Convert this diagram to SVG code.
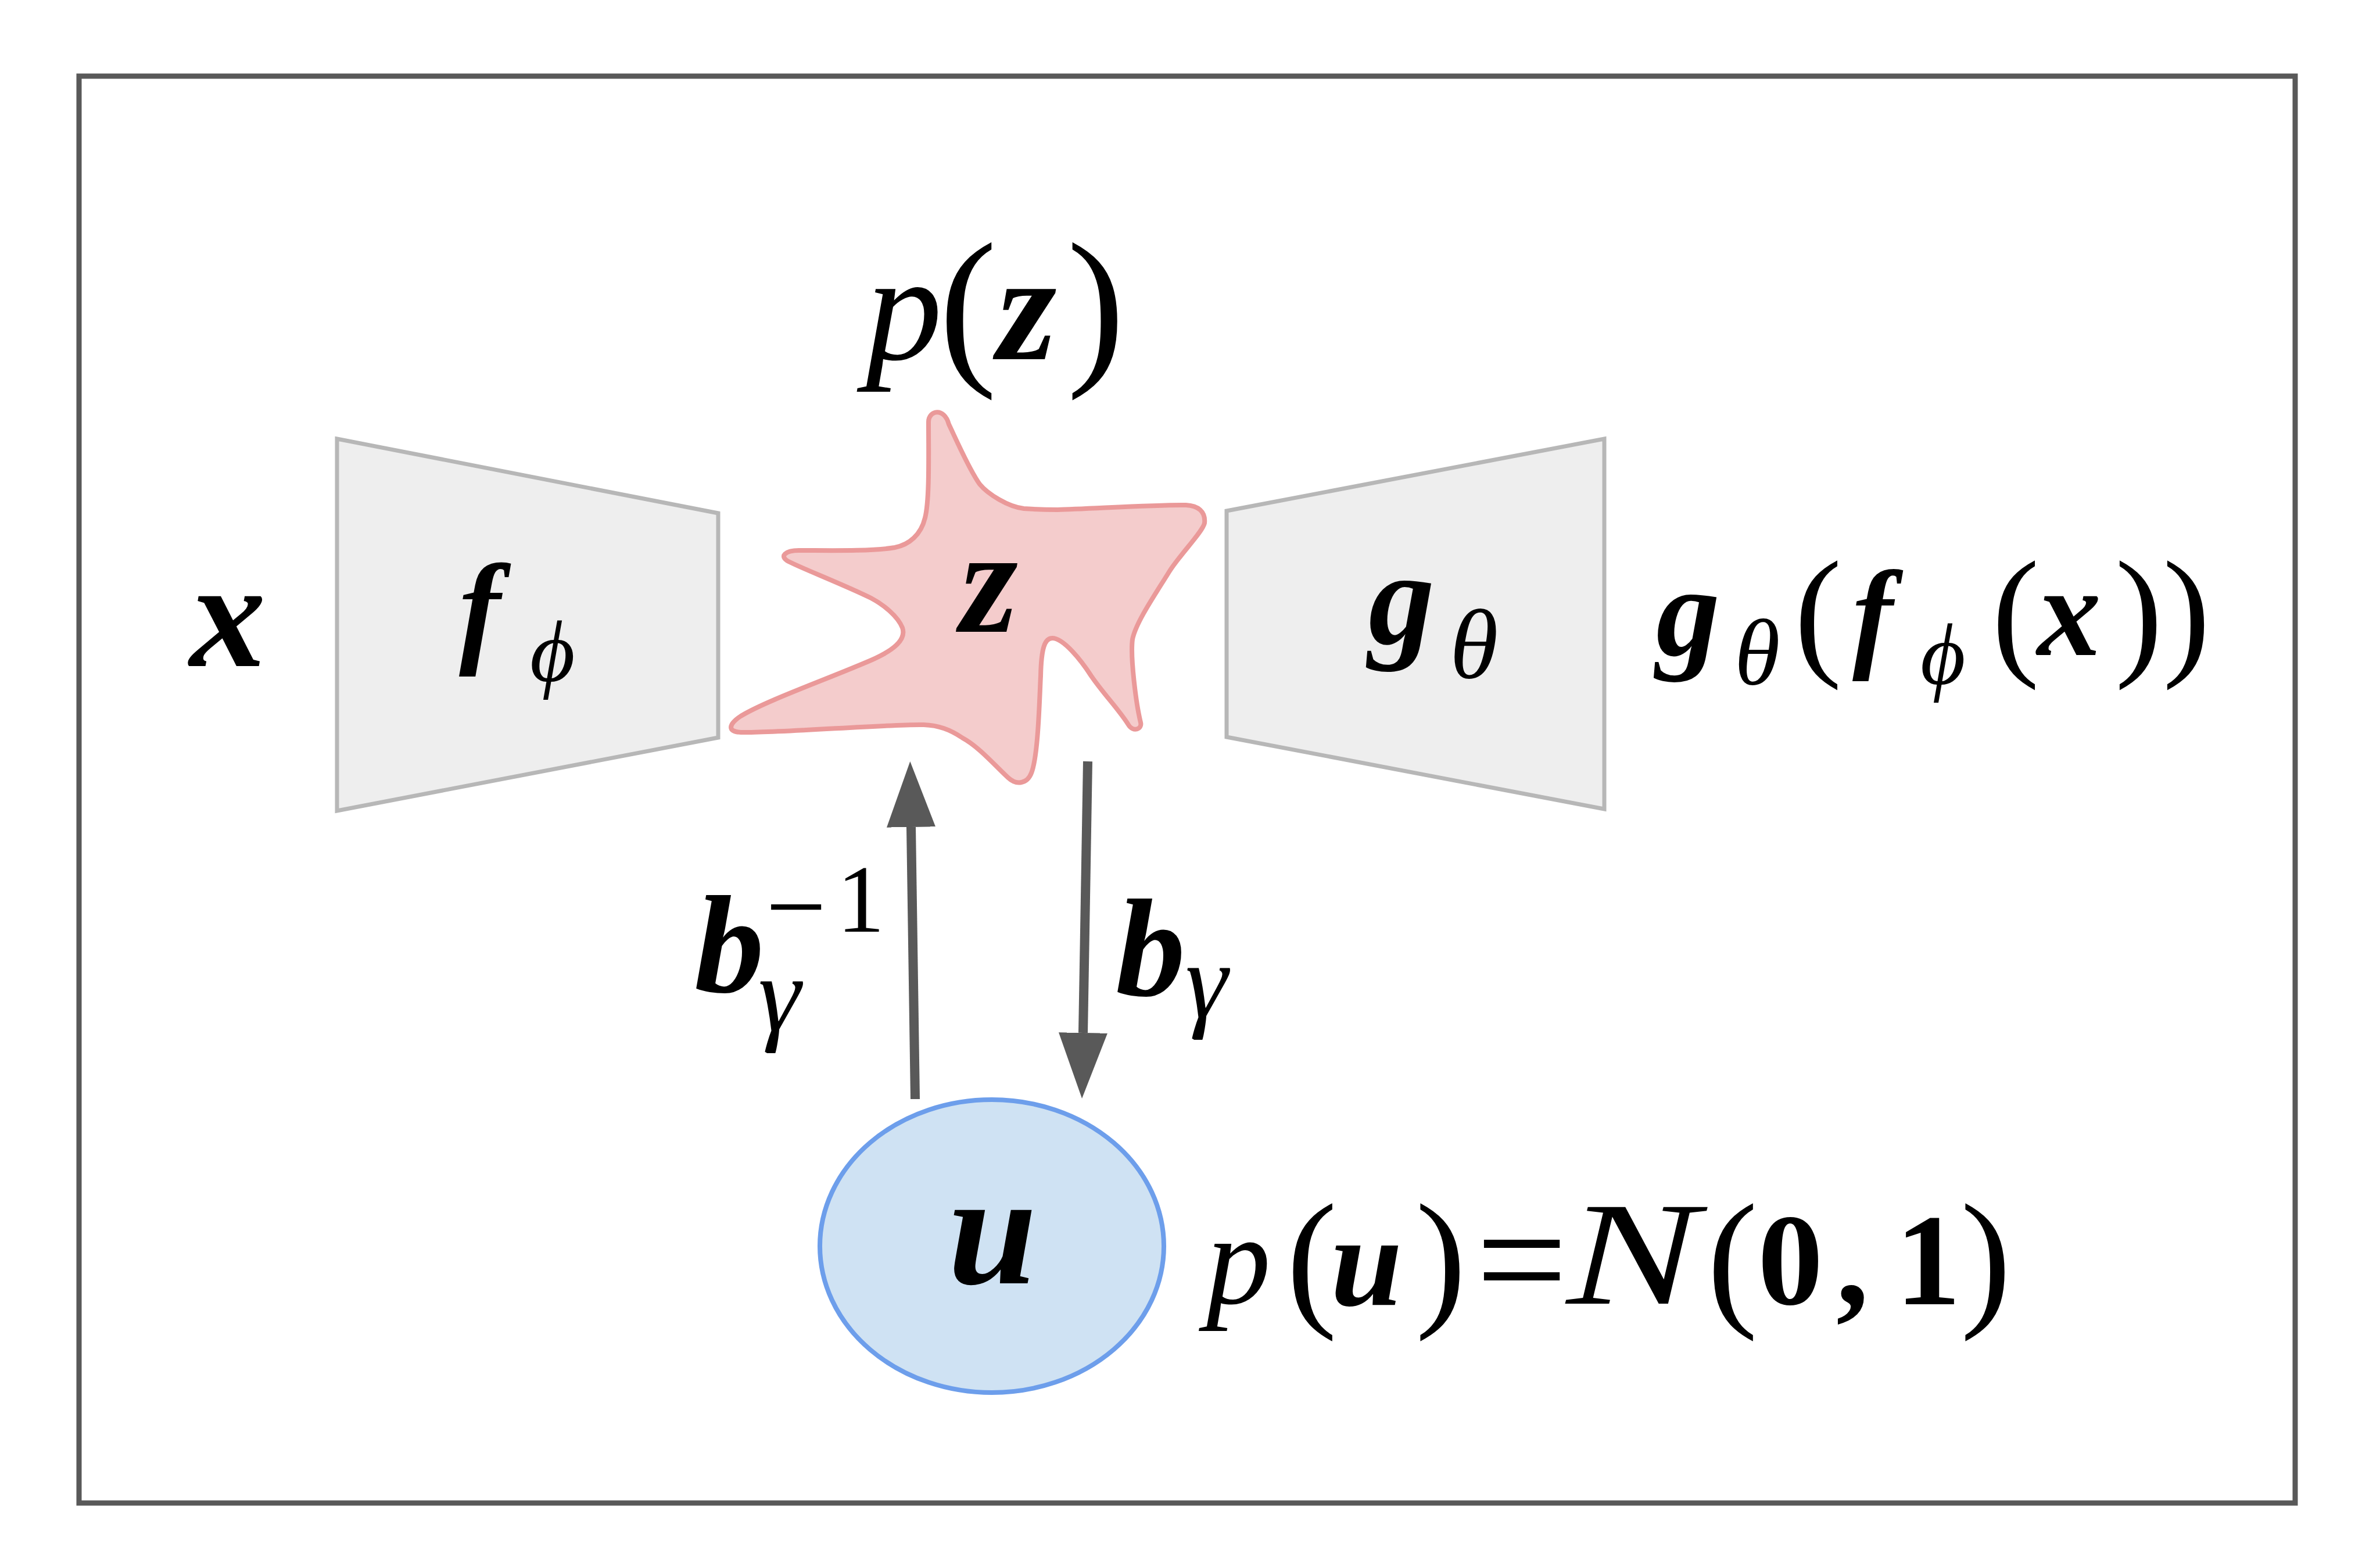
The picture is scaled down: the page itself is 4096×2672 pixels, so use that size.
<svg xmlns="http://www.w3.org/2000/svg" width="4096" height="2672" viewBox="0 0 4096 2672">
<defs>
<style>
.t{font-family:"Liberation Serif","DejaVu Serif",serif;fill:#000}
.bi{font-weight:bold;font-style:italic}
.it{font-style:italic}
.bd{font-weight:bold}
.trap{fill:#eeeeee;stroke:#b7b7b7;stroke-width:7;stroke-linejoin:miter}
.conn{stroke:#595959;stroke-width:16;fill:none}
</style>
<marker id="head" viewBox="0 0 113 84" markerWidth="113" markerHeight="84" markerUnits="userSpaceOnUse" refX="0" refY="42" orient="auto">
<path d="M0,0 L113,42 L0,84 Z" fill="#595959"/>
</marker>
</defs>
<rect x="0" y="0" width="4096" height="2672" fill="#ffffff"/>
<g id="frame">
<rect x="136" y="131" width="3814" height="2455" fill="none" stroke="#595959" stroke-width="9"/>
</g>
<g id="input-x">
<text class="t bi" x="392" y="1146" font-size="262" text-anchor="middle">x</text>
</g>
<g id="encoder">
<polygon class="trap" points="580,755 1236,883 1236,1269 580,1395"/>
<text class="t" y="1118"><tspan class="bi" x="790" font-size="215">f</tspan><tspan class="it" x="912" y="1172" font-size="150">ϕ</tspan></text>
</g>
<g id="latent">
<path d="M1598,726 C1598,706 1625,700 1633,730 C1645,755 1668,808 1686,833 C1700,850 1735,872 1762,875 C1790,877 1800,877 1820,877 C1870,876 1990,868 2041,869 C2062,870 2075,880 2073,900 C2070,915 2030,955 2012,984 C1990,1020 1955,1070 1949,1100 C1945,1130 1955,1210 1963,1243 C1966,1255 1950,1260 1942,1247 C1925,1220 1900,1195 1878,1163 C1860,1135 1830,1098 1811,1098 C1798,1098 1792,1115 1791,1163 C1789,1200 1787,1300 1775,1330 C1768,1348 1750,1352 1735,1338 C1715,1320 1685,1285 1657,1270 C1635,1255 1615,1248 1590,1247 C1540,1245 1330,1262 1275,1260 C1250,1259 1255,1245 1275,1232 C1320,1205 1420,1170 1499,1136 C1540,1118 1560,1100 1553,1080 C1545,1060 1520,1040 1499,1029 C1450,1005 1380,978 1357,966 C1340,957 1352,947 1375,947 C1420,947 1500,949 1540,942 C1565,937 1585,920 1592,891 C1600,860 1598,780 1598,726 Z" fill="#f4cccc" stroke="#ea9999" stroke-width="8"/>
<text class="t bi" x="1702" y="1087" font-size="256" text-anchor="middle">z</text>
<text class="t" y="618"><tspan class="it" x="1490" font-size="263">p</tspan><tspan x="1616" y="625" font-size="300">(</tspan><tspan class="bi" x="1716" y="618" font-size="263">z</tspan><tspan x="1836" y="625" font-size="300">)</tspan></text>
</g>
<g id="decoder">
<polygon class="trap" points="2111,879 2761,755 2761,1392 2111,1268"/>
<text class="t" y="1107"><tspan class="bi" x="2355" font-size="228">g</tspan><tspan class="it" x="2495" y="1166" font-size="170">θ</tspan></text>
</g>
<g id="output-label">
<text class="t" y="1127"><tspan class="bi" x="2850" font-size="220">g</tspan><tspan class="it" x="2985" y="1177" font-size="160">θ</tspan><tspan x="3088" y="1135" font-size="246">(</tspan><tspan class="bi" x="3188" y="1127" font-size="210">f</tspan><tspan class="it" x="3305" y="1177" font-size="150">ϕ</tspan><tspan x="3428" y="1135" font-size="246">(</tspan><tspan class="bi" x="3506" y="1127" font-size="220">x</tspan><tspan x="3640" y="1135" font-size="246">)</tspan><tspan x="3722" y="1135" font-size="246">)</tspan></text>
</g>
<g id="base">
<ellipse cx="1707" cy="2144" rx="296" ry="252" fill="#cfe2f3" stroke="#6d9eeb" stroke-width="8"/>
<text class="t bi" x="1708" y="2208" font-size="275" text-anchor="middle">u</text>
<text class="t" y="2243"><tspan class="it" x="2076" font-size="222">p</tspan><tspan x="2214" y="2252" font-size="262">(</tspan><tspan class="bi" x="2290" y="2245" font-size="222">u</tspan><tspan x="2436" y="2252" font-size="262">)</tspan><tspan x="2540" y="2261" font-size="280">=</tspan><tspan class="it" x="2696" y="2243" font-size="254" textLength="227" lengthAdjust="spacingAndGlyphs">N</tspan><tspan x="2938" y="2252" font-size="262">(</tspan><tspan class="bd" x="3025" y="2244" font-size="225">0</tspan><tspan class="bd" x="3160" y="2244" font-size="225">,</tspan><tspan class="bd" x="3262" y="2244" font-size="225">1</tspan><tspan x="3374" y="2252" font-size="262">)</tspan></text>
</g>
<g id="connectors">
<line class="conn" x1="1575" y1="1891" x2="1568" y2="1423" marker-end="url(#head)"/>
<line class="conn" x1="1872" y1="1310" x2="1864" y2="1777" marker-end="url(#head)"/>
</g>
<g id="connector-labels">
<text class="t" y="1706"><tspan class="bi" x="1195" font-size="240">b</tspan><tspan x="1318" y="1622" font-size="185">−</tspan><tspan x="1440" y="1603" font-size="165">1</tspan><tspan class="it" x="1305" y="1773" font-size="185">γ</tspan></text>
<text class="t" y="1712"><tspan class="bi" x="1920" font-size="240">b</tspan><tspan class="it" x="2040" y="1750" font-size="185">γ</tspan></text>
</g>
</svg>
